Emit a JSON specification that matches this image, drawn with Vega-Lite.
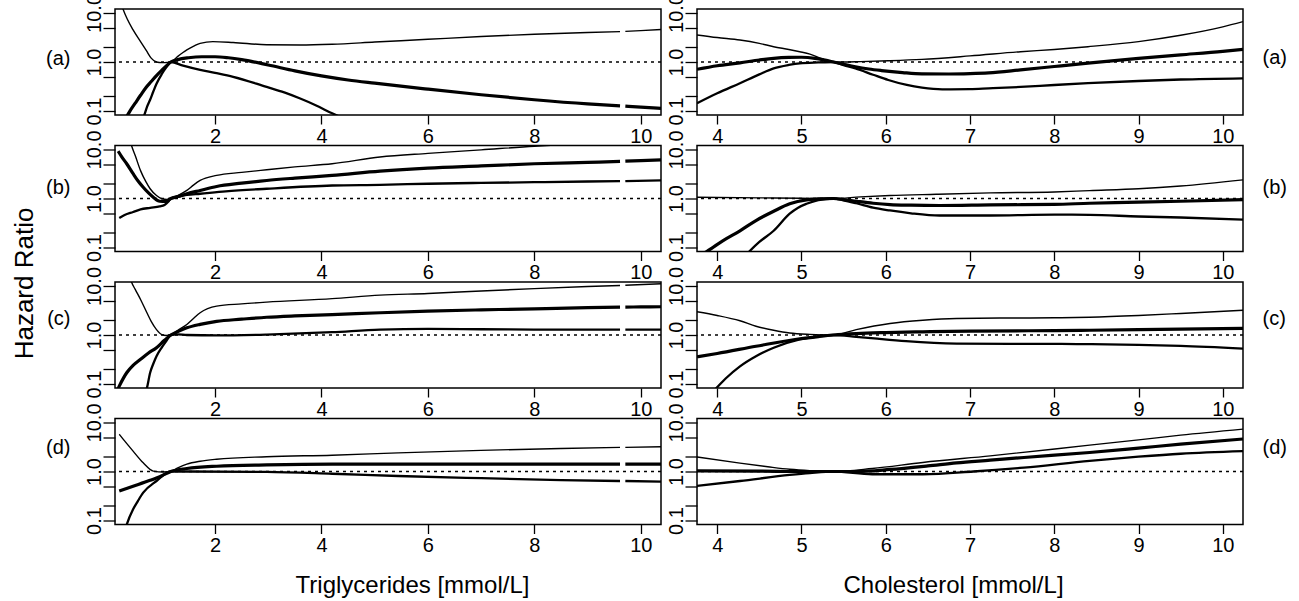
{
"$schema":"https://vega.github.io/schema/vega-lite/v6.json",
"autosize":{"type":"none"},
"padding":{"left":115,"top":9,"right":1184,"bottom":592},
"background":"white",
"title":{"text":"Hazard Ratio","orient":"left","anchor":"middle","fontSize":26,"fontWeight":"normal","font":"Liberation Sans","color":"black","offset":7,"dx":12},
"columns":2,
"spacing":{"row":30.5,"column":36},
"bounds":"flush",
"datasets":{
"aT":[
{"curve":"est","seg":1,"x":0.3,"hr":0.065},{"curve":"est","seg":1,"x":0.4,"hr":0.1},{"curve":"est","seg":1,"x":0.5,"hr":0.145},{"curve":"est","seg":1,"x":0.6,"hr":0.21},{"curve":"est","seg":1,"x":0.7,"hr":0.3},{"curve":"est","seg":1,"x":0.8,"hr":0.4},{"curve":"est","seg":1,"x":0.9,"hr":0.53},{"curve":"est","seg":1,"x":1.0,"hr":0.68},{"curve":"est","seg":1,"x":1.1,"hr":0.86},{"curve":"est","seg":1,"x":1.17,"hr":1.0},{"curve":"est","seg":1,"x":1.3,"hr":1.12},{"curve":"est","seg":1,"x":1.5,"hr":1.22},{"curve":"est","seg":1,"x":1.75,"hr":1.28},{"curve":"est","seg":1,"x":2.0,"hr":1.28},{"curve":"est","seg":1,"x":2.25,"hr":1.22},{"curve":"est","seg":1,"x":2.5,"hr":1.12},{"curve":"est","seg":1,"x":3.0,"hr":0.87},{"curve":"est","seg":1,"x":3.5,"hr":0.66},{"curve":"est","seg":1,"x":4.0,"hr":0.52},{"curve":"est","seg":1,"x":4.5,"hr":0.43},{"curve":"est","seg":1,"x":5.0,"hr":0.37},{"curve":"est","seg":1,"x":6.0,"hr":0.28},{"curve":"est","seg":1,"x":7.0,"hr":0.215},{"curve":"est","seg":1,"x":8.0,"hr":0.17},{"curve":"est","seg":1,"x":9.0,"hr":0.14},{"curve":"est","seg":1,"x":9.61,"hr":0.128},
{"curve":"est","seg":2,"x":9.71,"hr":0.126},{"curve":"est","seg":2,"x":10.0,"hr":0.12},{"curve":"est","seg":2,"x":10.38,"hr":0.114},
{"curve":"hi","seg":1,"x":0.2,"hr":20},{"curve":"hi","seg":1,"x":0.27,"hr":12},{"curve":"hi","seg":1,"x":0.35,"hr":7.5},{"curve":"hi","seg":1,"x":0.46,"hr":4.5},{"curve":"hi","seg":1,"x":0.6,"hr":2.6},{"curve":"hi","seg":1,"x":0.71,"hr":1.7},{"curve":"hi","seg":1,"x":0.8,"hr":1.2},{"curve":"hi","seg":1,"x":0.9,"hr":1.0},{"curve":"hi","seg":1,"x":1.0,"hr":0.97},{"curve":"hi","seg":1,"x":1.1,"hr":0.98},{"curve":"hi","seg":1,"x":1.17,"hr":1.0},{"curve":"hi","seg":1,"x":1.3,"hr":1.3},{"curve":"hi","seg":1,"x":1.47,"hr":1.76},{"curve":"hi","seg":1,"x":1.6,"hr":2.1},{"curve":"hi","seg":1,"x":1.72,"hr":2.4},{"curve":"hi","seg":1,"x":1.96,"hr":2.6},{"curve":"hi","seg":1,"x":2.34,"hr":2.5},{"curve":"hi","seg":1,"x":2.97,"hr":2.25},{"curve":"hi","seg":1,"x":3.6,"hr":2.22},{"curve":"hi","seg":1,"x":4.2,"hr":2.3},{"curve":"hi","seg":1,"x":5.0,"hr":2.55},{"curve":"hi","seg":1,"x":6.0,"hr":2.9},{"curve":"hi","seg":1,"x":7.0,"hr":3.3},{"curve":"hi","seg":1,"x":8.0,"hr":3.67},{"curve":"hi","seg":1,"x":9.0,"hr":4.0},{"curve":"hi","seg":1,"x":9.61,"hr":4.15},
{"curve":"hi","seg":2,"x":9.71,"hr":4.2},{"curve":"hi","seg":2,"x":10.0,"hr":4.35},{"curve":"hi","seg":2,"x":10.38,"hr":4.6},
{"curve":"lo","seg":1,"x":0.64,"hr":0.07},{"curve":"lo","seg":1,"x":0.67,"hr":0.083},{"curve":"lo","seg":1,"x":0.72,"hr":0.12},{"curve":"lo","seg":1,"x":0.78,"hr":0.17},{"curve":"lo","seg":1,"x":0.84,"hr":0.25},{"curve":"lo","seg":1,"x":0.9,"hr":0.36},{"curve":"lo","seg":1,"x":1.0,"hr":0.57},{"curve":"lo","seg":1,"x":1.09,"hr":0.8},{"curve":"lo","seg":1,"x":1.17,"hr":1.0},{"curve":"lo","seg":1,"x":1.4,"hr":0.84},{"curve":"lo","seg":1,"x":1.72,"hr":0.69},{"curve":"lo","seg":1,"x":2.0,"hr":0.6},{"curve":"lo","seg":1,"x":2.34,"hr":0.5},{"curve":"lo","seg":1,"x":2.97,"hr":0.31},{"curve":"lo","seg":1,"x":3.3,"hr":0.24},{"curve":"lo","seg":1,"x":3.6,"hr":0.18},{"curve":"lo","seg":1,"x":3.9,"hr":0.13},{"curve":"lo","seg":1,"x":4.2,"hr":0.09},{"curve":"lo","seg":1,"x":4.5,"hr":0.065}
],
"aC":[
{"curve":"est","seg":1,"x":3.76,"hr":0.71},{"curve":"est","seg":1,"x":4.0,"hr":0.84},{"curve":"est","seg":1,"x":4.27,"hr":0.96},{"curve":"est","seg":1,"x":4.5,"hr":1.1},{"curve":"est","seg":1,"x":4.67,"hr":1.19},{"curve":"est","seg":1,"x":4.85,"hr":1.24},{"curve":"est","seg":1,"x":5.0,"hr":1.25},{"curve":"est","seg":1,"x":5.16,"hr":1.19},{"curve":"est","seg":1,"x":5.28,"hr":1.09},{"curve":"est","seg":1,"x":5.38,"hr":1.0},{"curve":"est","seg":1,"x":5.5,"hr":0.9},{"curve":"est","seg":1,"x":5.64,"hr":0.8},{"curve":"est","seg":1,"x":5.8,"hr":0.72},{"curve":"est","seg":1,"x":5.95,"hr":0.67},{"curve":"est","seg":1,"x":6.2,"hr":0.61},{"curve":"est","seg":1,"x":6.43,"hr":0.575},{"curve":"est","seg":1,"x":6.75,"hr":0.57},{"curve":"est","seg":1,"x":7.0,"hr":0.58},{"curve":"est","seg":1,"x":7.22,"hr":0.6},{"curve":"est","seg":1,"x":7.6,"hr":0.69},{"curve":"est","seg":1,"x":8.0,"hr":0.81},{"curve":"est","seg":1,"x":8.4,"hr":0.95},{"curve":"est","seg":1,"x":9.0,"hr":1.19},{"curve":"est","seg":1,"x":9.5,"hr":1.4},{"curve":"est","seg":1,"x":10.0,"hr":1.65},{"curve":"est","seg":1,"x":10.24,"hr":1.81},
{"curve":"hi","seg":1,"x":3.76,"hr":3.56},{"curve":"hi","seg":1,"x":4.0,"hr":3.15},{"curve":"hi","seg":1,"x":4.27,"hr":2.81},{"curve":"hi","seg":1,"x":4.5,"hr":2.4},{"curve":"hi","seg":1,"x":4.67,"hr":2.05},{"curve":"hi","seg":1,"x":4.85,"hr":1.8},{"curve":"hi","seg":1,"x":4.98,"hr":1.62},{"curve":"hi","seg":1,"x":5.1,"hr":1.45},{"curve":"hi","seg":1,"x":5.25,"hr":1.15},{"curve":"hi","seg":1,"x":5.38,"hr":1.0},{"curve":"hi","seg":1,"x":5.5,"hr":1.0},{"curve":"hi","seg":1,"x":5.7,"hr":1.02},{"curve":"hi","seg":1,"x":6.03,"hr":1.06},{"curve":"hi","seg":1,"x":6.43,"hr":1.13},{"curve":"hi","seg":1,"x":7.0,"hr":1.33},{"curve":"hi","seg":1,"x":7.6,"hr":1.62},{"curve":"hi","seg":1,"x":8.0,"hr":1.8},{"curve":"hi","seg":1,"x":8.4,"hr":2.05},{"curve":"hi","seg":1,"x":9.0,"hr":2.6},{"curve":"hi","seg":1,"x":9.5,"hr":3.5},{"curve":"hi","seg":1,"x":10.0,"hr":5.2},{"curve":"hi","seg":1,"x":10.24,"hr":6.65},
{"curve":"lo","seg":1,"x":3.76,"hr":0.144},{"curve":"lo","seg":1,"x":4.0,"hr":0.23},{"curve":"lo","seg":1,"x":4.27,"hr":0.37},{"curve":"lo","seg":1,"x":4.5,"hr":0.56},{"curve":"lo","seg":1,"x":4.67,"hr":0.74},{"curve":"lo","seg":1,"x":4.85,"hr":0.87},{"curve":"lo","seg":1,"x":4.98,"hr":0.94},{"curve":"lo","seg":1,"x":5.2,"hr":0.98},{"curve":"lo","seg":1,"x":5.38,"hr":1.0},{"curve":"lo","seg":1,"x":5.5,"hr":0.86},{"curve":"lo","seg":1,"x":5.64,"hr":0.74},{"curve":"lo","seg":1,"x":5.85,"hr":0.55},{"curve":"lo","seg":1,"x":6.03,"hr":0.43},{"curve":"lo","seg":1,"x":6.25,"hr":0.34},{"curve":"lo","seg":1,"x":6.43,"hr":0.3},{"curve":"lo","seg":1,"x":6.67,"hr":0.277},{"curve":"lo","seg":1,"x":7.0,"hr":0.28},{"curve":"lo","seg":1,"x":7.22,"hr":0.29},{"curve":"lo","seg":1,"x":7.6,"hr":0.31},{"curve":"lo","seg":1,"x":8.0,"hr":0.34},{"curve":"lo","seg":1,"x":8.4,"hr":0.37},{"curve":"lo","seg":1,"x":9.0,"hr":0.41},{"curve":"lo","seg":1,"x":9.5,"hr":0.44},{"curve":"lo","seg":1,"x":10.24,"hr":0.465}
],
"bT":[
{"curve":"est","seg":1,"x":0.18,"hr":9.2},{"curve":"est","seg":1,"x":0.25,"hr":7.0},{"curve":"est","seg":1,"x":0.34,"hr":5.1},{"curve":"est","seg":1,"x":0.46,"hr":3.2},{"curve":"est","seg":1,"x":0.55,"hr":2.3},{"curve":"est","seg":1,"x":0.65,"hr":1.7},{"curve":"est","seg":1,"x":0.75,"hr":1.3},{"curve":"est","seg":1,"x":0.84,"hr":1.06},{"curve":"est","seg":1,"x":0.96,"hr":0.88},{"curve":"est","seg":1,"x":1.07,"hr":0.87},{"curve":"est","seg":1,"x":1.17,"hr":1.0},{"curve":"est","seg":1,"x":1.3,"hr":1.1},{"curve":"est","seg":1,"x":1.47,"hr":1.25},{"curve":"est","seg":1,"x":1.72,"hr":1.46},{"curve":"est","seg":1,"x":2.03,"hr":1.76},{"curve":"est","seg":1,"x":2.5,"hr":2.05},{"curve":"est","seg":1,"x":2.97,"hr":2.33},{"curve":"est","seg":1,"x":3.5,"hr":2.6},{"curve":"est","seg":1,"x":4.2,"hr":2.95},{"curve":"est","seg":1,"x":5.1,"hr":3.6},{"curve":"est","seg":1,"x":6.0,"hr":4.15},{"curve":"est","seg":1,"x":7.0,"hr":4.6},{"curve":"est","seg":1,"x":8.0,"hr":5.1},{"curve":"est","seg":1,"x":9.0,"hr":5.45},{"curve":"est","seg":1,"x":9.61,"hr":5.7},
{"curve":"est","seg":2,"x":9.71,"hr":5.75},{"curve":"est","seg":2,"x":10.0,"hr":5.9},{"curve":"est","seg":2,"x":10.38,"hr":6.15},
{"curve":"hi","seg":1,"x":0.35,"hr":25},{"curve":"hi","seg":1,"x":0.43,"hr":12},{"curve":"hi","seg":1,"x":0.5,"hr":7.5},{"curve":"hi","seg":1,"x":0.6,"hr":3.7},{"curve":"hi","seg":1,"x":0.7,"hr":2.2},{"curve":"hi","seg":1,"x":0.78,"hr":1.58},{"curve":"hi","seg":1,"x":0.9,"hr":1.15},{"curve":"hi","seg":1,"x":1.0,"hr":0.99},{"curve":"hi","seg":1,"x":1.1,"hr":0.96},{"curve":"hi","seg":1,"x":1.17,"hr":1.0},{"curve":"hi","seg":1,"x":1.3,"hr":1.15},{"curve":"hi","seg":1,"x":1.47,"hr":1.46},{"curve":"hi","seg":1,"x":1.6,"hr":1.9},{"curve":"hi","seg":1,"x":1.72,"hr":2.33},{"curve":"hi","seg":1,"x":2.03,"hr":2.95},{"curve":"hi","seg":1,"x":2.5,"hr":3.4},{"curve":"hi","seg":1,"x":2.97,"hr":3.85},{"curve":"hi","seg":1,"x":3.5,"hr":4.4},{"curve":"hi","seg":1,"x":4.2,"hr":5.1},{"curve":"hi","seg":1,"x":5.1,"hr":7.0},{"curve":"hi","seg":1,"x":6.0,"hr":8.3},{"curve":"hi","seg":1,"x":7.0,"hr":9.8},{"curve":"hi","seg":1,"x":8.0,"hr":11.6},{"curve":"hi","seg":1,"x":9.0,"hr":13},{"curve":"hi","seg":1,"x":9.61,"hr":13.5},
{"curve":"hi","seg":2,"x":9.71,"hr":13.6},{"curve":"hi","seg":2,"x":10.38,"hr":15},
{"curve":"lo","seg":1,"x":0.2,"hr":0.4},{"curve":"lo","seg":1,"x":0.3,"hr":0.46},{"curve":"lo","seg":1,"x":0.46,"hr":0.53},{"curve":"lo","seg":1,"x":0.6,"hr":0.6},{"curve":"lo","seg":1,"x":0.78,"hr":0.645},{"curve":"lo","seg":1,"x":0.96,"hr":0.69},{"curve":"lo","seg":1,"x":1.05,"hr":0.74},{"curve":"lo","seg":1,"x":1.12,"hr":0.86},{"curve":"lo","seg":1,"x":1.17,"hr":1.0},{"curve":"lo","seg":1,"x":1.3,"hr":1.08},{"curve":"lo","seg":1,"x":1.47,"hr":1.18},{"curve":"lo","seg":1,"x":1.72,"hr":1.25},{"curve":"lo","seg":1,"x":2.2,"hr":1.4},{"curve":"lo","seg":1,"x":2.97,"hr":1.58},{"curve":"lo","seg":1,"x":4.2,"hr":1.84},{"curve":"lo","seg":1,"x":5.1,"hr":1.9},{"curve":"lo","seg":1,"x":6.0,"hr":2.0},{"curve":"lo","seg":1,"x":7.0,"hr":2.08},{"curve":"lo","seg":1,"x":8.0,"hr":2.15},{"curve":"lo","seg":1,"x":9.0,"hr":2.22},{"curve":"lo","seg":1,"x":9.61,"hr":2.25},
{"curve":"lo","seg":2,"x":9.71,"hr":2.26},{"curve":"lo","seg":2,"x":10.38,"hr":2.33}
],
"bC":[
{"curve":"est","seg":1,"x":3.8,"hr":0.07},{"curve":"est","seg":1,"x":3.875,"hr":0.083},{"curve":"est","seg":1,"x":4.07,"hr":0.139},{"curve":"est","seg":1,"x":4.27,"hr":0.22},{"curve":"est","seg":1,"x":4.46,"hr":0.356},{"curve":"est","seg":1,"x":4.67,"hr":0.55},{"curve":"est","seg":1,"x":4.86,"hr":0.78},{"curve":"est","seg":1,"x":5.06,"hr":0.94},{"curve":"est","seg":1,"x":5.2,"hr":0.98},{"curve":"est","seg":1,"x":5.38,"hr":1.0},{"curve":"est","seg":1,"x":5.5,"hr":0.95},{"curve":"est","seg":1,"x":5.65,"hr":0.88},{"curve":"est","seg":1,"x":5.85,"hr":0.8},{"curve":"est","seg":1,"x":6.05,"hr":0.75},{"curve":"est","seg":1,"x":6.3,"hr":0.73},{"curve":"est","seg":1,"x":6.64,"hr":0.72},{"curve":"est","seg":1,"x":7.24,"hr":0.74},{"curve":"est","seg":1,"x":8.0,"hr":0.76},{"curve":"est","seg":1,"x":8.42,"hr":0.8},{"curve":"est","seg":1,"x":9.0,"hr":0.84},{"curve":"est","seg":1,"x":9.5,"hr":0.88},{"curve":"est","seg":1,"x":10.24,"hr":0.95},
{"curve":"hi","seg":1,"x":3.76,"hr":1.06},{"curve":"hi","seg":1,"x":4.5,"hr":1.03},{"curve":"hi","seg":1,"x":5.0,"hr":1.01},{"curve":"hi","seg":1,"x":5.38,"hr":1.0},{"curve":"hi","seg":1,"x":5.7,"hr":1.08},{"curve":"hi","seg":1,"x":6.05,"hr":1.15},{"curve":"hi","seg":1,"x":6.6,"hr":1.22},{"curve":"hi","seg":1,"x":7.24,"hr":1.3},{"curve":"hi","seg":1,"x":8.0,"hr":1.36},{"curve":"hi","seg":1,"x":8.42,"hr":1.45},{"curve":"hi","seg":1,"x":9.0,"hr":1.58},{"curve":"hi","seg":1,"x":9.5,"hr":1.8},{"curve":"hi","seg":1,"x":10.24,"hr":2.4},
{"curve":"lo","seg":1,"x":4.3,"hr":0.06},{"curve":"lo","seg":1,"x":4.38,"hr":0.083},{"curve":"lo","seg":1,"x":4.5,"hr":0.13},{"curve":"lo","seg":1,"x":4.67,"hr":0.22},{"curve":"lo","seg":1,"x":4.86,"hr":0.49},{"curve":"lo","seg":1,"x":4.96,"hr":0.65},{"curve":"lo","seg":1,"x":5.06,"hr":0.78},{"curve":"lo","seg":1,"x":5.2,"hr":0.93},{"curve":"lo","seg":1,"x":5.38,"hr":1.0},{"curve":"lo","seg":1,"x":5.5,"hr":0.92},{"curve":"lo","seg":1,"x":5.65,"hr":0.8},{"curve":"lo","seg":1,"x":5.85,"hr":0.65},{"curve":"lo","seg":1,"x":6.05,"hr":0.57},{"curve":"lo","seg":1,"x":6.3,"hr":0.5},{"curve":"lo","seg":1,"x":6.64,"hr":0.45},{"curve":"lo","seg":1,"x":7.24,"hr":0.45},{"curve":"lo","seg":1,"x":8.0,"hr":0.47},{"curve":"lo","seg":1,"x":8.42,"hr":0.465},{"curve":"lo","seg":1,"x":9.0,"hr":0.43},{"curve":"lo","seg":1,"x":9.5,"hr":0.41},{"curve":"lo","seg":1,"x":10.24,"hr":0.37}
],
"cT":[
{"curve":"est","seg":1,"x":0.15,"hr":0.07},{"curve":"est","seg":1,"x":0.2,"hr":0.091},{"curve":"est","seg":1,"x":0.34,"hr":0.17},{"curve":"est","seg":1,"x":0.46,"hr":0.24},{"curve":"est","seg":1,"x":0.6,"hr":0.32},{"curve":"est","seg":1,"x":0.75,"hr":0.43},{"curve":"est","seg":1,"x":0.9,"hr":0.55},{"curve":"est","seg":1,"x":1.05,"hr":0.78},{"curve":"est","seg":1,"x":1.17,"hr":1.0},{"curve":"est","seg":1,"x":1.3,"hr":1.17},{"curve":"est","seg":1,"x":1.47,"hr":1.4},{"curve":"est","seg":1,"x":1.72,"hr":1.65},{"curve":"est","seg":1,"x":2.03,"hr":1.9},{"curve":"est","seg":1,"x":2.5,"hr":2.1},{"curve":"est","seg":1,"x":2.97,"hr":2.3},{"curve":"est","seg":1,"x":3.5,"hr":2.45},{"curve":"est","seg":1,"x":4.2,"hr":2.6},{"curve":"est","seg":1,"x":5.1,"hr":2.84},{"curve":"est","seg":1,"x":6.0,"hr":3.06},{"curve":"est","seg":1,"x":7.0,"hr":3.25},{"curve":"est","seg":1,"x":8.0,"hr":3.42},{"curve":"est","seg":1,"x":9.0,"hr":3.6},{"curve":"est","seg":1,"x":9.61,"hr":3.7},
{"curve":"est","seg":2,"x":9.71,"hr":3.71},{"curve":"est","seg":2,"x":10.0,"hr":3.73},{"curve":"est","seg":2,"x":10.38,"hr":3.76},
{"curve":"hi","seg":1,"x":0.35,"hr":25},{"curve":"hi","seg":1,"x":0.43,"hr":12},{"curve":"hi","seg":1,"x":0.5,"hr":8.5},{"curve":"hi","seg":1,"x":0.6,"hr":5.3},{"curve":"hi","seg":1,"x":0.72,"hr":2.84},{"curve":"hi","seg":1,"x":0.8,"hr":1.9},{"curve":"hi","seg":1,"x":0.9,"hr":1.29},{"curve":"hi","seg":1,"x":1.0,"hr":1.02},{"curve":"hi","seg":1,"x":1.08,"hr":0.98},{"curve":"hi","seg":1,"x":1.17,"hr":1.0},{"curve":"hi","seg":1,"x":1.3,"hr":1.25},{"curve":"hi","seg":1,"x":1.47,"hr":1.64},{"curve":"hi","seg":1,"x":1.6,"hr":2.2},{"curve":"hi","seg":1,"x":1.72,"hr":2.84},{"curve":"hi","seg":1,"x":2.03,"hr":3.87},{"curve":"hi","seg":1,"x":2.5,"hr":4.3},{"curve":"hi","seg":1,"x":2.97,"hr":4.67},{"curve":"hi","seg":1,"x":4.2,"hr":5.5},{"curve":"hi","seg":1,"x":5.1,"hr":6.5},{"curve":"hi","seg":1,"x":6.0,"hr":7.0},{"curve":"hi","seg":1,"x":7.0,"hr":7.9},{"curve":"hi","seg":1,"x":8.0,"hr":8.8},{"curve":"hi","seg":1,"x":9.0,"hr":9.7},{"curve":"hi","seg":1,"x":9.61,"hr":10.2},
{"curve":"hi","seg":2,"x":9.71,"hr":10.3},{"curve":"hi","seg":2,"x":10.38,"hr":11.1},
{"curve":"lo","seg":1,"x":0.68,"hr":0.06},{"curve":"lo","seg":1,"x":0.72,"hr":0.083},{"curve":"lo","seg":1,"x":0.78,"hr":0.17},{"curve":"lo","seg":1,"x":0.84,"hr":0.26},{"curve":"lo","seg":1,"x":0.9,"hr":0.37},{"curve":"lo","seg":1,"x":1.0,"hr":0.56},{"curve":"lo","seg":1,"x":1.09,"hr":0.77},{"curve":"lo","seg":1,"x":1.17,"hr":1.0},{"curve":"lo","seg":1,"x":1.3,"hr":1.03},{"curve":"lo","seg":1,"x":1.47,"hr":1.0},{"curve":"lo","seg":1,"x":2.03,"hr":0.98},{"curve":"lo","seg":1,"x":2.97,"hr":1.02},{"curve":"lo","seg":1,"x":4.2,"hr":1.14},{"curve":"lo","seg":1,"x":5.1,"hr":1.29},{"curve":"lo","seg":1,"x":6.0,"hr":1.33},{"curve":"lo","seg":1,"x":7.0,"hr":1.31},{"curve":"lo","seg":1,"x":8.0,"hr":1.29},{"curve":"lo","seg":1,"x":9.61,"hr":1.29},
{"curve":"lo","seg":2,"x":9.71,"hr":1.29},{"curve":"lo","seg":2,"x":10.38,"hr":1.29}
],
"cC":[
{"curve":"est","seg":1,"x":3.76,"hr":0.36},{"curve":"est","seg":1,"x":4.0,"hr":0.42},{"curve":"est","seg":1,"x":4.46,"hr":0.59},{"curve":"est","seg":1,"x":4.98,"hr":0.84},{"curve":"est","seg":1,"x":5.2,"hr":0.93},{"curve":"est","seg":1,"x":5.38,"hr":1.0},{"curve":"est","seg":1,"x":5.65,"hr":1.07},{"curve":"est","seg":1,"x":6.0,"hr":1.12},{"curve":"est","seg":1,"x":6.44,"hr":1.16},{"curve":"est","seg":1,"x":7.0,"hr":1.2},{"curve":"est","seg":1,"x":8.0,"hr":1.23},{"curve":"est","seg":1,"x":8.42,"hr":1.25},{"curve":"est","seg":1,"x":9.0,"hr":1.29},{"curve":"est","seg":1,"x":10.24,"hr":1.36},
{"curve":"hi","seg":1,"x":3.76,"hr":2.97},{"curve":"hi","seg":1,"x":4.0,"hr":2.5},{"curve":"hi","seg":1,"x":4.27,"hr":1.95},{"curve":"hi","seg":1,"x":4.46,"hr":1.51},{"curve":"hi","seg":1,"x":4.67,"hr":1.25},{"curve":"hi","seg":1,"x":4.86,"hr":1.1},{"curve":"hi","seg":1,"x":5.1,"hr":1.03},{"curve":"hi","seg":1,"x":5.38,"hr":1.0},{"curve":"hi","seg":1,"x":5.65,"hr":1.29},{"curve":"hi","seg":1,"x":6.05,"hr":1.72},{"curve":"hi","seg":1,"x":6.44,"hr":2.0},{"curve":"hi","seg":1,"x":6.84,"hr":2.17},{"curve":"hi","seg":1,"x":7.5,"hr":2.22},{"curve":"hi","seg":1,"x":8.0,"hr":2.24},{"curve":"hi","seg":1,"x":8.42,"hr":2.3},{"curve":"hi","seg":1,"x":9.0,"hr":2.5},{"curve":"hi","seg":1,"x":9.5,"hr":2.75},{"curve":"hi","seg":1,"x":10.24,"hr":3.2},
{"curve":"lo","seg":1,"x":3.9,"hr":0.06},{"curve":"lo","seg":1,"x":3.99,"hr":0.083},{"curve":"lo","seg":1,"x":4.1,"hr":0.13},{"curve":"lo","seg":1,"x":4.27,"hr":0.23},{"curve":"lo","seg":1,"x":4.46,"hr":0.37},{"curve":"lo","seg":1,"x":4.67,"hr":0.55},{"curve":"lo","seg":1,"x":4.98,"hr":0.81},{"curve":"lo","seg":1,"x":5.2,"hr":0.94},{"curve":"lo","seg":1,"x":5.38,"hr":1.0},{"curve":"lo","seg":1,"x":5.65,"hr":0.92},{"curve":"lo","seg":1,"x":5.9,"hr":0.84},{"curve":"lo","seg":1,"x":6.24,"hr":0.75},{"curve":"lo","seg":1,"x":6.84,"hr":0.67},{"curve":"lo","seg":1,"x":7.5,"hr":0.66},{"curve":"lo","seg":1,"x":8.0,"hr":0.66},{"curve":"lo","seg":1,"x":8.42,"hr":0.65},{"curve":"lo","seg":1,"x":9.0,"hr":0.63},{"curve":"lo","seg":1,"x":9.5,"hr":0.6},{"curve":"lo","seg":1,"x":10.24,"hr":0.53}
],
"dT":[
{"curve":"est","seg":1,"x":0.2,"hr":0.4},{"curve":"est","seg":1,"x":0.46,"hr":0.5},{"curve":"est","seg":1,"x":0.78,"hr":0.66},{"curve":"est","seg":1,"x":1.0,"hr":0.82},{"curve":"est","seg":1,"x":1.17,"hr":1.0},{"curve":"est","seg":1,"x":1.47,"hr":1.15},{"curve":"est","seg":1,"x":2.03,"hr":1.28},{"curve":"est","seg":1,"x":2.97,"hr":1.36},{"curve":"est","seg":1,"x":4.2,"hr":1.41},{"curve":"est","seg":1,"x":5.44,"hr":1.41},{"curve":"est","seg":1,"x":7.0,"hr":1.42},{"curve":"est","seg":1,"x":8.5,"hr":1.42},{"curve":"est","seg":1,"x":9.61,"hr":1.42},
{"curve":"est","seg":2,"x":9.71,"hr":1.42},{"curve":"est","seg":2,"x":10.38,"hr":1.42},
{"curve":"hi","seg":1,"x":0.2,"hr":5.75},{"curve":"hi","seg":1,"x":0.3,"hr":4.2},{"curve":"hi","seg":1,"x":0.46,"hr":2.6},{"curve":"hi","seg":1,"x":0.65,"hr":1.5},{"curve":"hi","seg":1,"x":0.84,"hr":1.02},{"curve":"hi","seg":1,"x":1.03,"hr":0.98},{"curve":"hi","seg":1,"x":1.17,"hr":1.0},{"curve":"hi","seg":1,"x":1.3,"hr":1.18},{"curve":"hi","seg":1,"x":1.47,"hr":1.41},{"curve":"hi","seg":1,"x":1.72,"hr":1.62},{"curve":"hi","seg":1,"x":2.03,"hr":1.78},{"curve":"hi","seg":1,"x":2.97,"hr":2.0},{"curve":"hi","seg":1,"x":4.2,"hr":2.15},{"curve":"hi","seg":1,"x":5.44,"hr":2.4},{"curve":"hi","seg":1,"x":7.0,"hr":2.7},{"curve":"hi","seg":1,"x":8.5,"hr":2.95},{"curve":"hi","seg":1,"x":9.61,"hr":3.1},
{"curve":"hi","seg":2,"x":9.71,"hr":3.1},{"curve":"hi","seg":2,"x":10.38,"hr":3.2},
{"curve":"lo","seg":1,"x":0.3,"hr":0.06},{"curve":"lo","seg":1,"x":0.34,"hr":0.083},{"curve":"lo","seg":1,"x":0.46,"hr":0.17},{"curve":"lo","seg":1,"x":0.55,"hr":0.25},{"curve":"lo","seg":1,"x":0.65,"hr":0.37},{"curve":"lo","seg":1,"x":0.9,"hr":0.64},{"curve":"lo","seg":1,"x":1.17,"hr":1.0},{"curve":"lo","seg":1,"x":1.47,"hr":1.0},{"curve":"lo","seg":1,"x":2.97,"hr":0.98},{"curve":"lo","seg":1,"x":4.2,"hr":0.9},{"curve":"lo","seg":1,"x":5.44,"hr":0.81},{"curve":"lo","seg":1,"x":7.0,"hr":0.73},{"curve":"lo","seg":1,"x":8.5,"hr":0.67},{"curve":"lo","seg":1,"x":9.61,"hr":0.64},
{"curve":"lo","seg":2,"x":9.71,"hr":0.64},{"curve":"lo","seg":2,"x":10.38,"hr":0.62}
],
"dC":[
{"curve":"est","seg":1,"x":3.76,"hr":1.03},{"curve":"est","seg":1,"x":4.5,"hr":1.02},{"curve":"est","seg":1,"x":5.0,"hr":1.0},{"curve":"est","seg":1,"x":5.38,"hr":1.0},{"curve":"est","seg":1,"x":5.65,"hr":1.0},{"curve":"est","seg":1,"x":6.05,"hr":1.1},{"curve":"est","seg":1,"x":6.5,"hr":1.3},{"curve":"est","seg":1,"x":6.84,"hr":1.5},{"curve":"est","seg":1,"x":7.24,"hr":1.7},{"curve":"est","seg":1,"x":7.64,"hr":1.93},{"curve":"est","seg":1,"x":8.42,"hr":2.44},{"curve":"est","seg":1,"x":9.0,"hr":3.0},{"curve":"est","seg":1,"x":9.5,"hr":3.6},{"curve":"est","seg":1,"x":10.24,"hr":4.6},
{"curve":"hi","seg":1,"x":3.76,"hr":1.98},{"curve":"hi","seg":1,"x":4.27,"hr":1.48},{"curve":"hi","seg":1,"x":4.6,"hr":1.25},{"curve":"hi","seg":1,"x":4.86,"hr":1.11},{"curve":"hi","seg":1,"x":5.1,"hr":1.04},{"curve":"hi","seg":1,"x":5.38,"hr":1.0},{"curve":"hi","seg":1,"x":5.84,"hr":1.15},{"curve":"hi","seg":1,"x":6.44,"hr":1.53},{"curve":"hi","seg":1,"x":7.24,"hr":2.08},{"curve":"hi","seg":1,"x":8.42,"hr":3.44},{"curve":"hi","seg":1,"x":9.0,"hr":4.4},{"curve":"hi","seg":1,"x":9.5,"hr":5.5},{"curve":"hi","seg":1,"x":10.24,"hr":7.3},
{"curve":"lo","seg":1,"x":3.76,"hr":0.51},{"curve":"lo","seg":1,"x":4.27,"hr":0.64},{"curve":"lo","seg":1,"x":4.86,"hr":0.85},{"curve":"lo","seg":1,"x":5.1,"hr":0.93},{"curve":"lo","seg":1,"x":5.38,"hr":1.0},{"curve":"lo","seg":1,"x":5.84,"hr":0.88},{"curve":"lo","seg":1,"x":6.44,"hr":0.88},{"curve":"lo","seg":1,"x":7.04,"hr":1.0},{"curve":"lo","seg":1,"x":7.64,"hr":1.2},{"curve":"lo","seg":1,"x":8.42,"hr":1.65},{"curve":"lo","seg":1,"x":9.0,"hr":2.0},{"curve":"lo","seg":1,"x":9.5,"hr":2.3},{"curve":"lo","seg":1,"x":10.24,"hr":2.6}
]
},
"concat":[
{"width":546,"height":106,"layer":[
 {"data":{"name":"aT"},"mark":{"type":"line","clip":true,"color":"black","interpolate":"monotone"},
  "encoding":{
   "x":{"field":"x","type":"quantitative","scale":{"domain":[0.12,10.38],"nice":false,"zero":false},"axis":{"values":[2,4,6,8,10],"format":"d","title":null}},
   "y":{"field":"hr","type":"quantitative","scale":{"type":"log","domain":[0.0832,12.02],"nice":false},"axis":{"orient":"left","values":[0.1,0.2,0.5,1,2,5,10],"labelExpr":"datum.value == 0.1 || datum.value == 1 || datum.value == 10 ? format(datum.value, '.1f') : ''","title":"(a)","titleY":49}},
   "detail":{"field":"seg","type":"nominal"},
   "strokeWidth":{"field":"curve","type":"nominal","scale":{"domain":["est","lo","hi"],"range":[3.2,1.4,1.4]},"legend":null}}},
 {"data":{"values":[{"ref":1}]},"mark":{"type":"rule","strokeDash":[3,4],"strokeWidth":1.4,"color":"black"},
  "encoding":{"y":{"field":"ref","type":"quantitative","axis":{"orient":"left","values":[0.1,0.2,0.5,1,2,5,10],"labelExpr":"datum.value == 0.1 || datum.value == 1 || datum.value == 10 ? format(datum.value, '.1f') : ''","title":"(a)","titleY":49}}}}
]},
{"width":546,"height":106,"layer":[
 {"data":{"name":"aC"},"mark":{"type":"line","clip":true,"color":"black","interpolate":"monotone"},
  "encoding":{
   "x":{"field":"x","type":"quantitative","scale":{"domain":[3.76,10.24],"nice":false,"zero":false},"axis":{"values":[4,5,6,7,8,9,10],"format":"d","title":null}},
   "y":{"field":"hr","type":"quantitative","scale":{"type":"log","domain":[0.0832,12.02],"nice":false},"axis":{"orient":"left","values":[0.1,0.2,0.5,1,2,5,10],"labelExpr":"datum.value == 0.1 || datum.value == 1 || datum.value == 10 ? format(datum.value, '.1f') : ''","title":null}},
   "detail":{"field":"seg","type":"nominal"},
   "strokeWidth":{"field":"curve","type":"nominal","scale":{"domain":["est","lo","hi"],"range":[3.2,1.4,1.4]},"legend":null}}},
 {"data":{"values":[{"ref":1}]},"mark":{"type":"rule","strokeDash":[3,4],"strokeWidth":1.4,"color":"black"},
  "encoding":{"y":{"field":"ref","type":"quantitative","axis":{"orient":"right","title":"(a)","labels":false,"ticks":false,"domain":false,"titleAlign":"left","titleX":19,"titleY":48}}}}
]},
{"width":546,"height":106,"layer":[
 {"data":{"name":"bT"},"mark":{"type":"line","clip":true,"color":"black","interpolate":"monotone"},
  "encoding":{
   "x":{"field":"x","type":"quantitative","scale":{"domain":[0.12,10.38],"nice":false,"zero":false},"axis":{"values":[2,4,6,8,10],"format":"d","title":null}},
   "y":{"field":"hr","type":"quantitative","scale":{"type":"log","domain":[0.0832,12.02],"nice":false},"axis":{"orient":"left","values":[0.1,0.2,0.5,1,2,5,10],"labelExpr":"datum.value == 0.1 || datum.value == 1 || datum.value == 10 ? format(datum.value, '.1f') : ''","title":"(b)","titleY":42}},
   "detail":{"field":"seg","type":"nominal"},
   "strokeWidth":{"field":"curve","type":"nominal","scale":{"domain":["est","lo","hi"],"range":[3.2,1.4,1.4]},"legend":null}}},
 {"data":{"values":[{"ref":1}]},"mark":{"type":"rule","strokeDash":[3,4],"strokeWidth":1.4,"color":"black"},
  "encoding":{"y":{"field":"ref","type":"quantitative","axis":{"orient":"left","values":[0.1,0.2,0.5,1,2,5,10],"labelExpr":"datum.value == 0.1 || datum.value == 1 || datum.value == 10 ? format(datum.value, '.1f') : ''","title":"(b)","titleY":42}}}}
]},
{"width":546,"height":106,"layer":[
 {"data":{"name":"bC"},"mark":{"type":"line","clip":true,"color":"black","interpolate":"monotone"},
  "encoding":{
   "x":{"field":"x","type":"quantitative","scale":{"domain":[3.76,10.24],"nice":false,"zero":false},"axis":{"values":[4,5,6,7,8,9,10],"format":"d","title":null}},
   "y":{"field":"hr","type":"quantitative","scale":{"type":"log","domain":[0.0832,12.02],"nice":false},"axis":{"orient":"left","values":[0.1,0.2,0.5,1,2,5,10],"labelExpr":"datum.value == 0.1 || datum.value == 1 || datum.value == 10 ? format(datum.value, '.1f') : ''","title":null}},
   "detail":{"field":"seg","type":"nominal"},
   "strokeWidth":{"field":"curve","type":"nominal","scale":{"domain":["est","lo","hi"],"range":[3.2,1.4,1.4]},"legend":null}}},
 {"data":{"values":[{"ref":1}]},"mark":{"type":"rule","strokeDash":[3,4],"strokeWidth":1.4,"color":"black"},
  "encoding":{"y":{"field":"ref","type":"quantitative","axis":{"orient":"right","title":"(b)","labels":false,"ticks":false,"domain":false,"titleAlign":"left","titleX":19,"titleY":42}}}}
]},
{"width":546,"height":106,"layer":[
 {"data":{"name":"cT"},"mark":{"type":"line","clip":true,"color":"black","interpolate":"monotone"},
  "encoding":{
   "x":{"field":"x","type":"quantitative","scale":{"domain":[0.12,10.38],"nice":false,"zero":false},"axis":{"values":[2,4,6,8,10],"format":"d","title":null}},
   "y":{"field":"hr","type":"quantitative","scale":{"type":"log","domain":[0.0832,12.02],"nice":false},"axis":{"orient":"left","values":[0.1,0.2,0.5,1,2,5,10],"labelExpr":"datum.value == 0.1 || datum.value == 1 || datum.value == 10 ? format(datum.value, '.1f') : ''","title":"(c)","titleY":36}},
   "detail":{"field":"seg","type":"nominal"},
   "strokeWidth":{"field":"curve","type":"nominal","scale":{"domain":["est","lo","hi"],"range":[3.2,1.4,1.4]},"legend":null}}},
 {"data":{"values":[{"ref":1}]},"mark":{"type":"rule","strokeDash":[3,4],"strokeWidth":1.4,"color":"black"},
  "encoding":{"y":{"field":"ref","type":"quantitative","axis":{"orient":"left","values":[0.1,0.2,0.5,1,2,5,10],"labelExpr":"datum.value == 0.1 || datum.value == 1 || datum.value == 10 ? format(datum.value, '.1f') : ''","title":"(c)","titleY":36}}}}
]},
{"width":546,"height":106,"layer":[
 {"data":{"name":"cC"},"mark":{"type":"line","clip":true,"color":"black","interpolate":"monotone"},
  "encoding":{
   "x":{"field":"x","type":"quantitative","scale":{"domain":[3.76,10.24],"nice":false,"zero":false},"axis":{"values":[4,5,6,7,8,9,10],"format":"d","title":null}},
   "y":{"field":"hr","type":"quantitative","scale":{"type":"log","domain":[0.0832,12.02],"nice":false},"axis":{"orient":"left","values":[0.1,0.2,0.5,1,2,5,10],"labelExpr":"datum.value == 0.1 || datum.value == 1 || datum.value == 10 ? format(datum.value, '.1f') : ''","title":null}},
   "detail":{"field":"seg","type":"nominal"},
   "strokeWidth":{"field":"curve","type":"nominal","scale":{"domain":["est","lo","hi"],"range":[3.2,1.4,1.4]},"legend":null}}},
 {"data":{"values":[{"ref":1}]},"mark":{"type":"rule","strokeDash":[3,4],"strokeWidth":1.4,"color":"black"},
  "encoding":{"y":{"field":"ref","type":"quantitative","axis":{"orient":"right","title":"(c)","labels":false,"ticks":false,"domain":false,"titleAlign":"left","titleX":19,"titleY":36}}}}
]},
{"width":546,"height":106,"layer":[
 {"data":{"name":"dT"},"mark":{"type":"line","clip":true,"color":"black","interpolate":"monotone"},
  "encoding":{
   "x":{"field":"x","type":"quantitative","scale":{"domain":[0.12,10.38],"nice":false,"zero":false},"axis":{"values":[2,4,6,8,10],"format":"d","title":"Triglycerides [mmol/L]","titleX":297,"titleY":68,"titleBaseline":"alphabetic","titleAlign":"center"}},
   "y":{"field":"hr","type":"quantitative","scale":{"type":"log","domain":[0.0832,12.02],"nice":false},"axis":{"orient":"left","values":[0.1,0.2,0.5,1,2,5,10],"labelExpr":"datum.value == 0.1 || datum.value == 1 || datum.value == 10 ? format(datum.value, '.1f') : ''","title":"(d)","titleY":29}},
   "detail":{"field":"seg","type":"nominal"},
   "strokeWidth":{"field":"curve","type":"nominal","scale":{"domain":["est","lo","hi"],"range":[3.2,1.4,1.4]},"legend":null}}},
 {"data":{"values":[{"ref":1}]},"mark":{"type":"rule","strokeDash":[3,4],"strokeWidth":1.4,"color":"black"},
  "encoding":{"y":{"field":"ref","type":"quantitative","axis":{"orient":"left","values":[0.1,0.2,0.5,1,2,5,10],"labelExpr":"datum.value == 0.1 || datum.value == 1 || datum.value == 10 ? format(datum.value, '.1f') : ''","title":"(d)","titleY":29}}}}
]},
{"width":546,"height":106,"layer":[
 {"data":{"name":"dC"},"mark":{"type":"line","clip":true,"color":"black","interpolate":"monotone"},
  "encoding":{
   "x":{"field":"x","type":"quantitative","scale":{"domain":[3.76,10.24],"nice":false,"zero":false},"axis":{"values":[4,5,6,7,8,9,10],"format":"d","title":"Cholesterol [mmol/L]","titleX":256,"titleY":68,"titleBaseline":"alphabetic","titleAlign":"center"}},
   "y":{"field":"hr","type":"quantitative","scale":{"type":"log","domain":[0.0832,12.02],"nice":false},"axis":{"orient":"left","values":[0.1,0.2,0.5,1,2,5,10],"labelExpr":"datum.value == 0.1 || datum.value == 1 || datum.value == 10 ? format(datum.value, '.1f') : ''","title":null}},
   "detail":{"field":"seg","type":"nominal"},
   "strokeWidth":{"field":"curve","type":"nominal","scale":{"domain":["est","lo","hi"],"range":[3.2,1.4,1.4]},"legend":null}}},
 {"data":{"values":[{"ref":1}]},"mark":{"type":"rule","strokeDash":[3,4],"strokeWidth":1.4,"color":"black"},
  "encoding":{"y":{"field":"ref","type":"quantitative","axis":{"orient":"right","title":"(d)","labels":false,"ticks":false,"domain":false,"titleAlign":"left","titleX":19,"titleY":29}}}}
]}
],
"config":{
 "font":"Liberation Sans",
 "view":{"stroke":"black","strokeWidth":1.5},
 "axis":{"domain":false,"grid":false,"tickColor":"black","tickWidth":1.3,"labelColor":"black","labelFont":"Liberation Sans","labelFontSize":20,"titleColor":"black","titleFont":"Liberation Sans","titleFontWeight":"normal","labelOverlap":false,"labelFlush":false},
 "axisX":{"tickSize":9,"labelPadding":2,"titleFontSize":24},
 "axisY":{"tickSize":12,"labelPadding":3,"labelAngle":270,"labelAlign":"center","labelBaseline":"alphabetic","titleAngle":0,"titleAlign":"right","titleBaseline":"middle","titleX":-45,"titleFontSize":20}
}
}
